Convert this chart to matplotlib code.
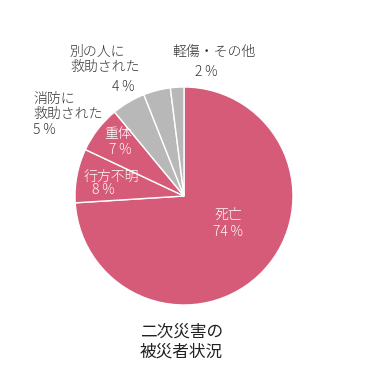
import matplotlib
matplotlib.use("Agg")
import matplotlib.pyplot as plt

plt.rcParams['font.family'] = ['Noto Sans CJK JP', 'DejaVu Sans']

categories = ["死亡", "行方不明", "重体", "消防に救助された", "別の人に救助された", "軽傷・その他"]
values = [74, 8, 7, 5, 4, 2]
PINK = "#d65b78"
GRAY = "#b8b8b8"
colors = [PINK, PINK, PINK, GRAY, GRAY, GRAY]

W, H = 367, 389
fig = plt.figure(figsize=(W / 100, H / 100), dpi=100)
cx, cy, r = 184, 196, 109
ax = fig.add_axes([(cx - r) / W, 1 - (cy + r) / H, 2 * r / W, 2 * r / H])
ax.pie(values, colors=colors, startangle=90, counterclock=False,
       wedgeprops=dict(edgecolor="white", linewidth=1.0))
ax.set_xlim(-1, 1)
ax.set_ylim(-1, 1)
ax.set_aspect("equal")
ax.axis("off")

def t(px, py, s, color="#333333", size=10, ha="left", weight="light"):
    fig.text(px / W, 1 - py / H, s, color=color, fontsize=size, ha=ha, va="center",
             fontweight=weight)

def pct(v):
    return f"{v}\u2009%"

# inside labels
t(228, 215, categories[0], "white", ha="center")
t(228, 232, pct(values[0]), "white", ha="center")
t(111, 177, categories[1], "white", ha="center")
t(103, 190, pct(values[1]), "white", ha="center")
t(118, 134, categories[2], "white", ha="center")
t(120, 150, pct(values[2]), "white", ha="center")

# outside labels
t(33, 99, "消防に")
t(33, 114, "救助された")
t(33, 130, pct(values[3]))
t(70, 52, "別の人に")
t(70, 67, "救助された")
t(112, 87, pct(values[4]))
t(172, 52, categories[5])
t(195, 72, pct(values[5]))

# title
t(140, 332, "二次災害の", "#222222", size=12, weight="normal")
t(140, 352, "被災者状況", "#222222", size=12, weight="normal")

fig.savefig("out.png", dpi=100, facecolor="white")
